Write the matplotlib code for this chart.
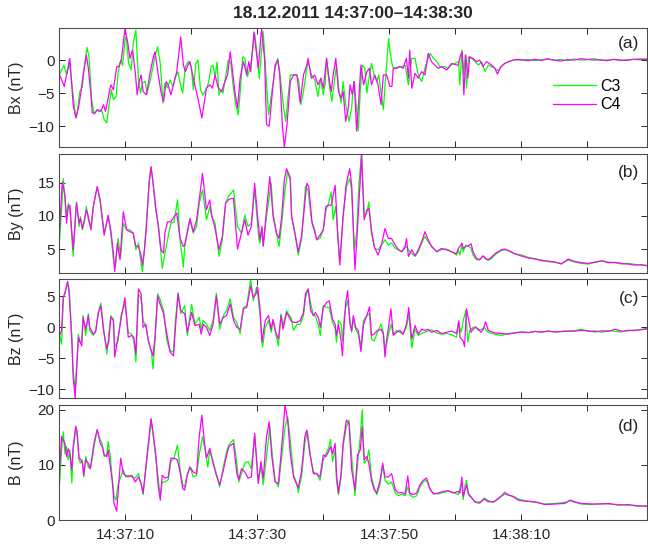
import matplotlib
matplotlib.use("Agg")
import matplotlib.pyplot as plt

matplotlib.rcParams.update({"font.family": ["Liberation Sans", "DejaVu Sans"], "font.size": 11})

# time is seconds after 14:37:00, field in nT
bx_c3_t = [0.0, 0.7, 1.1, 1.5, 2.0, 2.4, 2.6, 2.9, 3.1, 3.5, 3.8, 4.2, 4.5, 4.9, 5.3, 5.7, 6.0, 6.4, 6.8, 7.2,
           7.5, 7.9, 8.2, 8.6, 8.9, 9.3, 9.6, 10.0, 10.2, 10.5, 10.9, 11.2, 11.6, 12.0, 12.3, 12.6, 13.0, 13.3,
           13.8, 14.2, 14.6, 14.9, 15.3, 15.7, 16.0, 16.4, 16.8, 17.2, 17.6, 18.0, 18.3, 18.7, 19.1, 19.6, 20.0,
           20.3, 20.7, 21.0, 21.4, 21.8, 22.2, 22.6, 23.0, 23.3, 23.6, 23.9, 24.2, 24.5, 24.8, 25.2, 25.6, 26.0,
           26.3, 26.7, 27.1, 27.4, 27.8, 28.1, 28.5, 28.8, 29.1, 29.6, 29.9, 30.3, 30.9, 31.7, 32.2, 32.7, 33.1,
           33.4, 34.0, 34.3, 35.0, 35.5, 36.0, 36.3, 36.6, 37.0, 37.5, 37.7, 38.2, 38.7, 39.2, 39.6, 40.0, 40.3,
           40.5, 40.9, 41.3, 41.8, 42.0, 42.4, 42.7, 43.0, 43.4, 43.9, 44.3, 44.6, 45.0, 45.3, 45.6, 45.9, 46.3,
           46.6, 47.0, 47.3, 47.7, 48.1, 48.4, 49.1, 49.4, 49.9, 50.1, 50.5, 50.9, 51.4, 51.9, 52.4, 52.9, 53.1,
           53.4, 53.9, 54.4, 54.9, 55.4, 55.9, 56.2, 56.7, 57.2, 57.7, 58.4, 58.9, 59.4, 59.95, 60.5, 60.7, 61.0,
           61.3, 61.5, 61.7, 62.0, 62.5, 63.0, 63.5, 64.0, 64.5, 65.0, 65.5, 66.0, 66.5, 67.0, 67.5, 68.3, 69.0,
           70, 71, 72, 73, 74, 75, 76, 77, 78, 79, 80, 81, 82, 83, 84, 85, 86, 87, 88, 89]
bx_c3 = [-2.2, -0.8, -2.2, 0.0, -4.5, -8.0, -8.7, -6.5, -4.8, -4.0, -1.0, 1.9, 0.5, -6.0, -8.2, -7.5, -7.8, -7.5,
         -9.0, -9.5, -7.0, -4.5, -6.0, -5.5, -2.0, 0.0, -0.8, 3.5, 3.0, -0.5, -1.5, 2.5, 4.5, -3.0, -5.0, -3.5,
         -3.2, -5.0, -3.0, -1.0, 1.0, 2.0, -0.5, -6.5, -3.5, -4.2, -3.0, -4.0, -2.5, -1.8, -3.5, -5.0, -1.0, -0.2,
         -1.0, -4.5, -0.5, 0.0, -4.5, -5.3, -4.5, -3.5, -1.0, -0.8, -2.5, -0.3, -5.3, -4.5, -5.0, -2.5, 0.0, -0.5,
         -3.5, -6.5, -8.3, -5.0, 0.5, 0.3, -2.5, -1.5, 0.0, 4.0, 1.5, -2.8, 4.3, -8.25, -4.75, -1.25, 0.25, -1.75,
         -7.25, -9.25, -2.25, -2.25, -2.25, -3.25, -6.75, -4.75, -1.25, -0.25, -2.25, -3.0, -5.5, -2.75, -5.25,
         -3.5, 0.25, -3.75, -6.25, -2.25, -0.75, -4.75, -6.5, -3.25, -6.75, -9.25, -7.25, -3.25, -6.75, -10.75,
         -4.75, -0.75, -1.25, -5.0, -2.25, -0.5, -2.25, -3.25, -2.25, -7.5, -3.25, 3.25, 1.25, -1.0, -1.25, -1.0,
         -1.0, -0.75, -3.75, -2.25, 0.25, 0.25, -2.25, -3.25, -1.25, 0.25, 1.0, 0.25, -0.25, -1.0, -1.0, -1.25,
         -0.75, -0.5, -0.25, -3.75, 1.5, -2.25, 0.75, -4.25, 0.5, 0.25, -0.25, -0.75, -0.25, -1.75, -0.75, -1.0,
         -1.25, -1.6, -1.0, -0.5, -0.15, 0.05, 0.0, 0.1, -0.1, 0.05, 0.2, -0.05, 0.1, -0.1, 0.15, 0.0, 0.05, 0.25,
         -0.05, 0.0, 0.1, -0.1, 0.05, 0.1, 0.2, 0.1]
bx_c4_t = [0.05, 0.76, 1.1, 1.36, 1.6, 2.1, 2.5, 2.9, 3.3, 3.6, 4.1, 4.4, 4.75, 5.0, 5.4, 5.8, 6.3, 6.7, 7.0, 7.4,
           7.8, 8.2, 8.7, 9.0, 9.4, 9.95, 10.35, 10.7, 11.1, 11.5, 11.8, 12.1, 12.4, 12.7, 13.2, 13.7, 14.2, 14.5,
           15.0, 15.4, 15.8, 16.2, 16.5, 16.9, 17.3, 17.8, 18.4, 18.8, 19.1, 19.5, 19.8, 20.3, 21.1, 21.6, 22.3,
           22.8, 23.2, 23.6, 24.1, 24.6, 25.1, 25.5, 25.9, 26.2, 26.6, 27.0, 27.4, 27.9, 28.4, 28.7, 29.0, 29.5,
           30.15, 30.65, 31.1, 31.4, 31.8, 32.2, 32.7, 33.1, 33.4, 33.8, 34.1, 34.5, 35.0, 35.5, 36.0, 36.5, 37.0,
           37.5, 37.7, 38.2, 38.7, 39.2, 39.65, 40.0, 40.5, 40.8, 41.2, 41.5, 41.9, 42.3, 42.7, 43.0, 43.4, 43.8,
           44.05, 44.4, 44.7, 45.05, 45.3, 45.7, 46.1, 46.6, 47.0, 47.3, 47.8, 48.3, 48.75, 49.1, 49.6, 50.1, 50.4,
           50.6, 51.1, 51.6, 52.1, 52.6, 52.9, 53.1, 53.4, 53.9, 54.4, 54.9, 55.4, 55.9, 56.4, 56.9, 57.4, 57.9,
           58.7, 59.45, 60.2, 60.45, 60.8, 61.05, 61.3, 61.6, 61.9, 62.2, 62.7, 63.2, 63.7, 64.2, 64.75, 65.5, 66.0,
           66.4, 66.9, 67.5, 68.3, 69.0, 70, 71, 72, 73, 74, 75, 76, 77, 78, 79, 80, 81, 82, 83, 84, 85, 86, 87,
           88, 89]
bx_c4 = [-2.25, -4.0, -2.25, -1.25, 0.25, -6.75, -8.75, -7.25, -4.75, -2.25, 0.75, -1.25, -4.75, -8.0, -8.0, -7.5,
         -7.75, -6.75, -7.75, -5.75, -3.75, -4.5, -1.0, -1.0, 0.0, 4.75, 2.75, 0.25, 1.5, -1.75, -5.25, -3.25,
         -2.25, -4.75, -5.25, -2.25, 0.25, 1.25, -2.25, -4.75, -6.25, -3.25, -3.75, -5.25, -3.75, -1.75, 3.5,
         -0.75, -1.75, -0.75, -0.25, -2.75, -6.25, -8.75, -4.25, -3.75, -4.25, -2.25, -4.25, -4.75, -3.25, -2.25,
         1.25, -1.25, -4.75, -7.25, -2.75, -0.25, -2.25, -0.25, -1.75, 4.25, -1.25, 4.75, 0.25, -9.75, -10.0,
         -5.75, -0.75, 0.0, -2.25, -9.75, -13.25, -9.75, -3.25, -2.25, -2.25, -6.5, -2.25, -0.75, 0.25, -2.75,
         -2.25, -3.75, -2.75, -4.25, 0.25, -2.25, -4.75, -2.25, 0.25, -4.75, -5.75, -4.75, -9.25, -7.25, -3.75,
         -5.25, -3.25, -10.75, -7.25, -0.75, -3.75, -1.75, -1.25, -3.75, -2.25, -3.75, -6.75, -2.25, -2.25, -4.0,
         -4.0, -1.25, -1.25, -1.0, -1.25, 0.25, -2.75, 1.5, -4.25, -2.0, -2.75, -1.75, -2.25, 1.0, -0.25, -0.75,
         -1.25, -1.0, -1.5, -0.5, -0.75, -0.75, 0.75, 1.25, -5.25, 0.75, -2.75, 0.5, 0.25, -0.25, 0.0, -1.0, -0.25,
         -0.75, -1.25, -2.15, -1.0, -0.5, -0.15, 0.05, 0.05, -0.1, 0.1, -0.05, 0.15, 0.0, -0.15, 0.05, 0.0, 0.2,
         0.1, 0.0, 0.05, -0.1, 0.1, 0.0, -0.05, 0.1, 0.05, 0.15]

by_c3_t = [0.05, 0.35, 0.6, 0.86, 1.1, 1.36, 1.6, 2.1, 2.6, 3.0, 3.2, 3.5, 3.8, 4.1, 4.4, 4.8, 5.15, 5.75, 6.2, 6.8,
           7.4, 7.8, 8.2, 8.5, 8.9, 9.3, 9.7, 10.2, 10.7, 11.2, 11.6, 12.0, 12.4, 12.6, 12.9, 13.2, 13.6, 13.9,
           14.2, 14.6, 15.0, 15.4, 15.6, 16.1, 16.4, 16.9, 17.4, 17.9, 18.3, 18.8, 19.0, 19.8, 20.3, 20.8, 21.2,
           21.7, 22.3, 22.8, 23.1, 23.6, 24.2, 24.7, 25.2, 25.6, 26.4, 27.0, 27.6, 28.1, 28.6, 29.1, 29.6, 30.25,
           30.4, 30.7, 30.9, 31.4, 32.1, 32.4, 32.9, 33.3, 33.7, 34.2, 34.6, 35.0, 35.2, 35.7, 36.2, 36.7, 37.3,
           37.7, 38.2, 38.7, 39.0, 39.5, 40.0, 40.4, 40.8, 41.2, 41.5, 41.9, 42.3, 42.5, 43.0, 43.5, 44.0, 44.3,
           44.7, 45.05, 45.4, 45.8, 46.2, 46.6, 46.9, 47.3, 47.8, 48.3, 48.8, 49.35, 49.85, 50.35, 50.9, 51.4,
           51.9, 52.6, 53.1, 53.9, 54.4, 54.9, 55.4, 55.9, 56.4, 57.2, 57.9, 58.7, 59.45, 60.2, 60.45, 60.7, 61.0,
           61.2, 61.6, 62.0, 62.4, 62.7, 63.2, 63.7, 64.2, 64.6, 65.0, 65.5, 66.0, 66.5, 67.0, 67.5, 68.0, 68.5,
           69.0, 70.05, 71.1, 72.1, 73.1, 74.1, 75.1, 76.1, 77.1, 78.1, 79.1, 80.15, 81.2, 82.2, 83.2, 84.2, 85.2,
           86.2, 87.2, 88.2, 89.0]
by_c3 = [6.4, 10.9, 15.6, 12.4, 9.6, 11.9, 10.9, 3.9, 12.1, 8.4, 9.9, 7.9, 9.1, 11.4, 9.4, 8.1, 11.4, 14.4, 12.4,
         7.4, 9.9, 7.4, 3.4, 2.3, 6.6, 3.9, 8.9, 7.9, 7.9, 7.4, 4.9, 5.9, 2.8, 1.6, 4.9, 8.9, 14.9, 17.3, 14.9, 10.9,
         8.9, 4.3, 2.1, 4.9, 6.4, 8.9, 9.1, 12.4, 6.4, 2.3, 5.4, 9.4, 7.4, 8.4, 11.9, 13.9, 9.4, 11.4, 9.9, 8.9, 3.9,
         6.4, 11.9, 12.9, 13.9, 8.4, 7.4, 10.1, 8.4, 8.9, 13.9, 6.4, 5.9, 7.9, 5.6, 9.9, 14.9, 10.4, 7.4, 5.4, 8.9,
         13.9, 16.7, 15.9, 9.9, 7.4, 4.1, 6.4, 14.4, 13.9, 9.4, 7.9, 6.4, 6.6, 7.9, 10.9, 11.9, 13.6, 9.4, 11.4, 5.9,
         3.1, 9.9, 14.4, 15.6, 13.9, 4.9, 7.4, 14.9, 19.3, 9.9, 10.4, 12.1, 7.4, 5.1, 4.9, 5.6, 6.4, 5.6, 5.9, 5.1,
         4.9, 4.6, 5.4, 4.6, 3.9, 4.6, 5.9, 6.9, 6.1, 5.4, 4.6, 4.9, 5.0, 4.6, 4.1, 4.9, 4.1, 5.6, 4.6, 5.6, 5.4,
         5.1, 4.1, 3.4, 3.4, 3.9, 3.5, 3.3, 3.6, 4.1, 4.5, 4.8, 4.9, 4.8, 4.5, 4.3, 4.1, 3.75, 3.5, 3.35, 3.1, 3.0,
         2.85, 3.35, 3.05, 2.85, 2.75, 3.0, 3.2, 3.05, 2.95, 2.75, 2.85, 2.7, 2.6, 2.55]
by_c4_t = [0.05, 0.45, 0.86, 1.1, 1.36, 1.6, 2.1, 2.6, 3.0, 3.2, 3.5, 3.8, 4.1, 4.4, 4.8, 5.15, 5.75, 6.2, 6.8,
           7.4, 7.8, 8.2, 8.4, 8.8, 9.2, 9.7, 10.2, 10.7, 11.2, 11.6, 12.0, 12.4, 12.6, 12.9, 13.2, 13.6, 13.9,
           14.2, 14.6, 15.0, 15.4, 15.8, 16.0, 16.4, 16.9, 17.4, 17.8, 18.3, 18.8, 19.0, 19.8, 20.3, 20.8, 21.2,
           21.7, 22.3, 22.8, 23.1, 23.6, 24.2, 24.7, 25.2, 25.6, 26.0, 26.4, 27.0, 27.6, 28.1, 28.6, 29.1, 29.6,
           30.05, 30.4, 30.7, 30.9, 31.4, 31.9, 32.4, 32.9, 33.3, 33.7, 34.1, 34.45, 35.0, 35.2, 35.7, 36.2, 36.7,
           37.5, 37.8, 38.3, 38.7, 39.0, 39.5, 40.0, 40.4, 40.8, 41.2, 41.8, 42.2, 42.5, 43.0, 43.5, 44.0, 44.3,
           44.8, 45.2, 45.6, 45.8, 46.2, 46.6, 46.9, 47.3, 47.7, 48.3, 48.8, 49.35, 49.85, 50.35, 50.9, 51.4, 51.9,
           52.4, 52.6, 52.9, 53.4, 53.9, 54.4, 54.9, 55.4, 55.9, 56.4, 57.2, 57.9, 58.7, 59.45, 60.2, 60.45, 60.7,
           61.0, 61.2, 61.6, 62.0, 62.4, 62.7, 63.2, 63.7, 64.2, 64.6, 65.0, 65.5, 66.0, 66.5, 67.0, 67.5, 68.0,
           68.5, 69.0, 70.05, 71.1, 72.1, 73.1, 74.1, 75.1, 76.1, 77.1, 78.1, 79.1, 80.15, 81.2, 82.2, 83.2, 84.2,
           85.2, 86.2, 87.2, 88.2, 89.0]
by_c4 = [8.0, 15.1, 13.1, 8.9, 11.4, 11.6, 4.9, 11.9, 8.9, 9.6, 8.1, 9.4, 10.9, 9.9, 7.9, 11.4, 14.4, 12.1, 7.1,
         10.1, 7.9, 4.3, 1.6, 5.9, 3.4, 10.6, 7.9, 7.6, 7.4, 5.4, 5.4, 4.0, 2.6, 4.9, 8.4, 14.9, 17.4, 15.1, 11.4,
         8.4, 4.9, 4.4, 7.4, 9.1, 9.1, 9.9, 10.4, 6.6, 5.4, 5.6, 9.6, 7.6, 9.4, 12.4, 16.4, 10.9, 12.4, 10.1, 8.1,
         4.9, 6.9, 11.9, 12.4, 12.6, 12.6, 5.0, 7.4, 9.4, 7.1, 8.4, 14.9, 9.9, 6.4, 8.4, 5.4, 10.9, 15.9, 9.9, 7.4,
         6.6, 9.9, 15.4, 17.1, 15.4, 9.9, 7.4, 4.6, 6.9, 14.9, 14.4, 8.9, 7.6, 6.4, 7.1, 7.9, 11.4, 11.6, 11.6,
         14.6, 6.9, 2.6, 9.9, 14.9, 17.1, 14.6, 1.9, 8.4, 15.4, 19.2, 9.4, 10.9, 11.1, 7.9, 5.4, 4.1, 5.6, 8.1,
         6.6, 6.6, 5.6, 4.9, 4.6, 5.4, 6.6, 3.9, 4.9, 4.0, 4.9, 6.1, 7.6, 6.4, 5.4, 4.6, 5.1, 4.9, 4.6, 4.3, 5.1,
         5.4, 5.9, 5.1, 5.4, 5.5, 5.8, 4.6, 3.6, 3.4, 4.0, 3.6, 3.4, 3.8, 4.3, 4.6, 4.9, 5.0, 4.8, 4.6, 4.3, 3.95,
         3.65, 3.55, 3.25, 3.2, 3.05, 2.75, 3.5, 3.15, 2.95, 2.85, 3.05, 3.25, 2.95, 3.0, 2.85, 2.75, 2.6, 2.65,
         2.5]

bz_c3_t = [0.05, 0.35, 0.6, 0.86, 1.26, 1.5, 1.9, 2.1, 2.4, 2.6, 2.9, 3.1, 3.4, 3.6, 4.0, 4.4, 4.6, 5.15, 5.5,
           5.9, 6.3, 6.7, 7.2, 7.5, 7.8, 8.2, 8.4, 8.9, 9.4, 9.95, 10.45, 10.96, 11.3, 11.6, 12.0, 12.4, 12.7,
           13.1, 13.5, 14.0, 14.2, 14.5, 14.9, 15.25, 15.8, 16.3, 16.8, 17.3, 17.6, 18.0, 18.4, 19.0, 19.4, 20.05,
           20.55, 21.2, 21.5, 21.8, 22.3, 22.8, 23.3, 23.8, 24.3, 24.85, 25.35, 25.9, 26.4, 26.9, 27.4, 27.9, 28.4,
           29.0, 29.4, 29.9, 30.05, 30.4, 30.8, 31.2, 31.7, 32.1, 32.4, 32.8, 33.2, 33.6, 33.9, 34.45, 34.7, 35.1,
           35.5, 36.0, 36.5, 37.0, 37.3, 37.7, 38.1, 38.5, 38.8, 39.25, 39.55, 40.0, 40.5, 40.9, 41.4, 41.8, 42.0,
           42.3, 42.7, 42.9, 43.2, 43.4, 43.7, 44.05, 44.3, 44.55, 44.9, 45.3, 45.7, 46.1, 46.6, 47.0, 47.3, 47.7,
           48.2, 48.75, 49.1, 49.35, 49.6, 49.85, 50.25, 50.6, 51.1, 51.6, 52.1, 52.6, 52.95, 53.4, 53.9, 54.4,
           54.9, 55.4, 55.9, 56.4, 57.2, 57.9, 58.7, 59.45, 60.2, 60.45, 60.9, 61.2, 61.6, 61.9, 62.2, 62.7, 63.1,
           63.5, 64.0, 64.4, 64.75, 65.25, 66.0, 67.0, 68.0, 69.0, 70.05, 71.1, 72.1, 73.1, 74.1, 75.1, 76.6, 78.1,
           79.1, 80.15, 81.2, 82.2, 83.2, 84.2, 85.2, 86.2, 87.2, 88.2, 89.0]
bz_c3 = [-1.3, -2.7, 4.8, 5.4, 7.3, 6.2, -1.6, -7.0, -10.2, -6.5, -1.1, -2.4, -2.2, 1.9, -1.3, 2.2, -0.5, -1.3,
         -0.5, 2.4, 3.9, 0.0, -4.3, -1.1, 1.9, 1.3, -3.2, -2.2, 2.2, 3.8, -0.8, -1.1, -2.2, -5.6, 5.4, 4.6, 1.1, 0.3,
         -2.2, -4.3, -6.7, -2.2, 5.4, 4.6, 2.7, -2.2, -3.8, -4.0, 1.1, 5.6, 2.2, 3.5, -1.3, 3.7, 0.5, 1.6, -0.3, 1.1,
         0.5, -0.5, 1.1, 5.5, -0.3, 1.9, 2.7, 4.6, 1.6, 0.8, -1.0, 3.2, 3.5, 7.8, 4.3, 6.5, 5.4, 2.2, -3.2, 0.0, 1.1,
         -0.8, 1.1, -1.1, -3.0, 2.2, 0.3, 2.7, 2.2, 1.6, -0.5, 0.5, 0.5, 1.9, 4.6, 6.2, 3.8, 1.9, 1.9, 0.3, -1.3,
         3.5, 3.2, 3.2, 0.8, -0.3, -2.4, 1.1, 0.5, -2.2, 1.9, 3.2, 4.3, 1.1, -0.8, 1.3, -0.3, -1.1, -3.0, 1.1, 1.9,
         2.2, -1.9, -2.2, -0.8, 0.5, -0.8, -3.5, -2.7, -1.3, 0.5, -1.1, -0.5, -0.8, -1.1, 0.0, 2.2, -3.3, -0.3,
         -1.3, -1.0, -0.8, -0.6, -0.4, -0.9, -1.1, -1.0, -1.2, -1.6, 0.8, -0.8, 1.1, 2.7, -2.4, -0.5, 0.0, 0.1,
         -0.5, -0.3, 0.0, -0.6, -0.9, -1.1, -1.3, -1.0, -0.9, -0.75, -0.85, -0.65, -0.8, -0.6, -0.75, -0.6, -0.55,
         -0.3, -0.65, -0.55, -0.8, -0.5, -0.65, -0.75, -0.45, -0.55, -0.3, -0.3]
bz_c4_t = [0.05, 0.35, 0.6, 0.86, 1.26, 1.5, 1.9, 2.1, 2.4, 2.6, 2.9, 3.1, 3.4, 3.6, 4.0, 4.4, 4.6, 5.15, 5.5,
           5.9, 6.3, 6.7, 7.2, 7.5, 7.8, 8.2, 8.4, 8.9, 9.4, 9.95, 10.45, 10.96, 11.3, 11.6, 12.0, 12.4, 12.7,
           13.1, 13.5, 14.0, 14.2, 14.5, 14.9, 15.25, 15.8, 16.3, 16.8, 17.3, 17.6, 18.0, 18.4, 19.0, 19.4, 20.05,
           20.55, 21.2, 21.5, 21.8, 22.3, 22.8, 23.3, 23.8, 24.3, 24.85, 25.35, 25.9, 26.4, 26.9, 27.4, 27.9, 28.4,
           29.0, 29.4, 29.9, 30.05, 30.4, 30.7, 31.2, 31.7, 32.1, 32.4, 32.8, 33.2, 33.6, 33.9, 34.45, 34.7, 35.1,
           35.5, 36.0, 36.5, 37.0, 37.3, 37.7, 38.1, 38.5, 38.8, 39.25, 39.55, 40.0, 40.5, 40.9, 41.4, 41.8, 42.0,
           42.3, 42.7, 42.9, 43.2, 43.4, 43.7, 44.05, 44.3, 44.55, 44.9, 45.3, 45.7, 46.1, 46.6, 47.0, 47.3, 47.7,
           48.2, 48.75, 49.1, 49.35, 49.6, 49.85, 50.25, 50.6, 51.1, 51.6, 52.1, 52.6, 52.95, 53.4, 53.9, 54.4,
           54.9, 55.4, 55.9, 56.4, 57.2, 57.9, 58.7, 59.45, 60.2, 60.55, 60.7, 61.2, 61.4, 61.7, 61.95, 62.4, 62.7,
           63.1, 63.5, 63.9, 64.25, 64.6, 65.0, 66.0, 67.0, 68.0, 69.0, 70.05, 71.1, 72.1, 73.1, 74.1, 75.1, 76.6,
           78.1, 79.1, 80.15, 81.2, 82.2, 83.2, 84.2, 85.2, 86.2, 87.2, 88.2, 89.0]
bz_c4 = [-1.3, -0.5, 4.8, 5.6, 7.4, 5.4, -2.2, -8.1, -11.4, -7.5, -1.6, -2.2, -3.0, 1.6, -0.3, 1.9, 0.0, -1.1,
         -0.8, 2.2, 3.5, -0.5, -3.5, -2.2, 1.6, 1.1, -4.8, -1.6, 1.6, 4.8, -1.6, -1.3, -1.6, -4.3, 6.2, 5.4, 0.0,
         0.5, -2.2, -4.0, -4.6, -1.6, 5.1, 3.8, 2.2, -1.1, -4.0, -4.6, 0.0, 5.4, 2.7, 2.2, -0.8, 2.4, 0.3, 0.5, -1.1,
         0.5, 0.0, -1.3, 0.5, 5.1, 0.5, 1.6, 1.9, 3.8, 1.1, 0.0, -0.3, 3.0, 3.2, 6.7, 4.8, 5.6, 6.5, 3.2, -2.4, 1.1,
         1.9, -0.3, 1.3, -0.8, -1.9, 1.9, -0.3, 2.4, 1.9, 1.1, 0.8, 0.8, 1.1, 2.4, 5.4, 6.2, 2.7, 1.9, 2.4, 1.6, 0.0,
         3.2, 4.0, 4.3, 1.3, 0.5, -1.3, 0.5, -2.2, -4.6, 1.1, 4.0, 5.9, 0.5, -0.5, 1.9, 0.0, -0.5, -3.9, 0.5, 1.9,
         3.3, -1.3, -1.1, -0.5, -0.3, -1.1, -4.8, -1.9, -0.3, 3.0, -1.3, -0.8, -0.5, -1.1, 0.5, 3.2, -1.9, 0.3,
         -1.1, -0.3, -0.5, -0.3, -0.8, -0.5, -1.0, -0.8, -0.6, -1.0, 1.1, -1.6, -2.2, -3.1, 3.0, 1.6, -0.8, -0.3,
         0.0, -0.3, -0.8, -0.3, 0.9, -0.5, -0.9, -1.0, -1.1, -0.9, -0.75, -0.85, -0.65, -0.75, -0.6, -0.75, -0.65,
         -0.6, -0.5, -0.55, -0.75, -0.55, -0.65, -0.3, -0.6, -0.55, -0.45, -0.4, -0.2]

b_c3_t = [0.05, 0.35, 0.6, 0.86, 1.1, 1.36, 1.6, 1.9, 2.1, 2.5, 2.7, 3.0, 3.2, 3.5, 3.7, 4.0, 4.4, 4.7, 5.0, 5.3,
          5.75, 6.2, 6.5, 6.8, 7.2, 7.4, 7.7, 8.0, 8.3, 8.6, 8.9, 9.3, 9.7, 10.05, 10.45, 11.0, 11.5, 12.0, 12.4,
          12.7, 13.2, 13.6, 13.9, 14.2, 14.6, 15.0, 15.3, 15.6, 16.0, 16.5, 16.9, 17.4, 17.9, 18.3, 18.7, 19.0,
          19.4, 19.8, 20.3, 20.8, 21.2, 21.7, 22.1, 22.5, 22.8, 23.3, 23.8, 24.3, 24.8, 25.4, 25.7, 26.4, 26.9,
          27.2, 27.6, 28.1, 28.6, 29.1, 29.6, 30.15, 30.55, 30.9, 31.4, 31.9, 32.3, 32.7, 33.2, 33.7, 34.2, 34.6,
          35.0, 35.5, 36.0, 36.2, 36.7, 37.2, 37.6, 38.0, 38.5, 39.0, 39.5, 40.0, 40.4, 40.8, 41.1, 41.4, 41.8,
          42.0, 42.3, 42.7, 43.0, 43.5, 43.9, 44.3, 44.8, 45.2, 45.6, 45.9, 46.2, 46.6, 46.9, 47.3, 47.7, 48.1,
          48.6, 49.0, 49.35, 49.85, 50.35, 50.9, 51.4, 51.9, 52.4, 52.8, 53.1, 53.6, 54.15, 54.65, 55.15, 55.65,
          56.2, 56.7, 57.4, 58.2, 58.95, 59.7, 60.45, 60.7, 61.0, 61.2, 61.5, 61.7, 62.0, 62.5, 63.0, 63.7, 64.4,
          65.0, 65.8, 66.5, 67.0, 67.5, 68.0, 68.8, 69.55, 70.6, 72.1, 73.6, 75.1, 76.6, 77.4, 78.1, 79.1, 80.7,
          82.2, 83.2, 84.7, 86.2, 87.7, 89.0]
b_c3 = [6.7, 12.7, 16.0, 12.0, 13.3, 10.9, 12.7, 6.7, 12.7, 16.6, 15.4, 10.9, 10.3, 10.9, 7.8, 11.5, 9.6, 9.3,
        11.1, 13.6, 16.3, 14.5, 13.9, 11.5, 11.8, 14.2, 11.8, 7.8, 4.3, 3.6, 6.4, 7.8, 9.1, 7.8, 8.1, 7.8, 7.6, 8.4,
        6.4, 4.6, 10.3, 14.5, 18.2, 15.4, 11.5, 7.3, 4.3, 6.9, 6.9, 7.3, 10.6, 11.2, 13.6, 9.3, 6.4, 6.0, 8.4, 9.6,
        7.8, 8.1, 11.8, 15.1, 12.7, 9.6, 12.7, 10.6, 8.4, 6.0, 9.3, 12.7, 13.6, 14.6, 10.3, 6.9, 8.4, 10.3, 10.6,
        9.3, 15.4, 7.0, 9.9, 6.4, 11.5, 16.9, 11.5, 7.2, 6.0, 11.5, 16.9, 18.7, 14.5, 8.1, 6.6, 5.0, 7.8, 13.9,
        16.0, 12.0, 8.7, 8.4, 7.2, 10.9, 12.0, 13.0, 14.6, 10.6, 12.7, 7.2, 4.6, 7.8, 13.3, 16.9, 18.1, 11.5, 4.4,
        10.3, 15.1, 20.0, 10.3, 10.9, 12.7, 7.8, 6.0, 4.6, 6.4, 9.9, 7.2, 6.5, 6.9, 4.9, 4.4, 4.7, 4.4, 6.0, 4.6,
        4.1, 4.4, 6.0, 6.9, 7.2, 5.5, 4.9, 4.7, 5.0, 5.2, 5.0, 4.6, 5.8, 6.5, 3.7, 6.4, 7.2, 4.9, 4.0, 3.2, 3.0,
        4.0, 3.5, 3.2, 3.8, 4.3, 4.7, 4.5, 4.3, 3.8, 3.5, 3.2, 2.9, 3.0, 3.2, 3.5, 3.2, 2.9, 2.8, 3.0, 2.9, 2.8,
        2.7, 2.6, 2.45]
b_c4_t = [0.05, 0.35, 0.6, 0.86, 1.1, 1.36, 1.6, 1.9, 2.1, 2.5, 2.7, 3.0, 3.2, 3.5, 3.7, 4.0, 4.4, 4.7, 5.0, 5.3,
          5.75, 6.2, 6.5, 6.8, 7.2, 7.4, 7.7, 8.0, 8.3, 8.7, 8.9, 9.3, 9.7, 10.05, 10.45, 11.0, 11.5, 12.0, 12.4,
          12.7, 13.2, 13.6, 13.9, 14.2, 14.6, 15.0, 15.3, 15.6, 16.0, 16.5, 16.9, 17.4, 17.9, 18.3, 18.7, 19.0,
          19.4, 19.8, 20.3, 20.8, 21.2, 21.6, 22.0, 22.3, 22.8, 23.3, 23.8, 24.3, 24.8, 25.4, 25.7, 26.4, 26.9,
          27.2, 27.6, 28.1, 28.6, 29.1, 29.6, 30.15, 30.55, 30.9, 31.4, 31.8, 32.2, 32.7, 33.2, 33.7, 34.2, 34.6,
          35.0, 35.5, 36.0, 36.2, 36.7, 37.2, 37.5, 38.0, 38.5, 39.0, 39.5, 40.0, 40.4, 40.8, 41.1, 41.4, 41.8,
          42.0, 42.3, 42.7, 43.0, 43.5, 43.9, 44.3, 44.8, 45.2, 45.6, 45.9, 46.2, 46.6, 46.9, 47.3, 47.7, 48.1,
          48.6, 49.0, 49.35, 49.85, 50.35, 50.9, 51.4, 51.9, 52.4, 52.8, 53.1, 53.6, 54.15, 54.65, 55.15, 55.65,
          56.2, 56.7, 57.4, 58.2, 58.95, 59.7, 60.45, 60.7, 61.0, 61.2, 61.5, 61.7, 62.0, 62.5, 63.0, 63.7, 64.4,
          65.0, 65.8, 66.5, 67.0, 67.5, 68.0, 68.8, 69.55, 70.6, 72.1, 73.6, 75.1, 76.6, 77.4, 78.1, 79.1, 80.7,
          82.2, 83.2, 84.7, 86.2, 87.7, 89.0]
b_c4 = [9.1, 15.1, 14.5, 13.9, 11.5, 12.9, 12.0, 9.1, 13.3, 17.0, 16.0, 11.1, 11.1, 10.3, 8.1, 10.9, 10.3, 9.3,
        11.8, 14.2, 16.4, 13.9, 13.3, 11.8, 11.5, 12.7, 10.0, 7.3, 3.0, 1.6, 4.9, 11.2, 8.4, 8.1, 7.8, 8.1, 6.9,
        7.8, 6.6, 4.9, 10.6, 15.1, 18.4, 16.0, 12.0, 6.0, 3.6, 8.1, 7.6, 7.8, 11.2, 11.2, 10.9, 8.7, 5.7, 5.4, 8.1,
        9.6, 8.7, 8.4, 15.1, 19.0, 13.9, 11.2, 13.0, 10.3, 8.1, 6.4, 8.7, 12.0, 13.3, 13.9, 8.4, 7.3, 9.3, 8.7, 7.6,
        7.8, 15.7, 6.6, 10.6, 7.6, 15.1, 17.8, 11.5, 6.9, 6.6, 13.3, 20.9, 18.1, 12.0, 7.8, 6.4, 5.8, 8.7, 15.1,
        16.3, 11.8, 8.4, 8.4, 7.8, 11.8, 11.5, 12.4, 13.3, 12.0, 13.9, 8.4, 4.9, 8.4, 13.9, 18.1, 17.5, 9.1, 5.5,
        11.8, 12.7, 16.9, 10.9, 11.5, 10.3, 7.2, 5.5, 4.9, 7.2, 10.3, 7.8, 7.8, 8.4, 5.5, 4.9, 5.0, 4.7, 8.0, 4.9,
        4.6, 4.9, 6.4, 7.2, 7.6, 5.5, 4.7, 4.9, 5.2, 5.3, 4.9, 5.2, 4.9, 7.8, 4.3, 5.5, 6.4, 4.6, 4.0, 3.3, 3.2,
        3.8, 3.3, 3.3, 3.9, 4.4, 5.0, 4.6, 4.2, 3.6, 3.4, 3.3, 2.8, 2.9, 3.0, 3.6, 3.3, 3.0, 2.9, 2.9, 3.0, 2.7,
        2.8, 2.5, 2.55]

# panel settings: label, data, y range, y ticks, tag and its height
panels = [
    ("Bx (nT)", bx_c3_t, bx_c3, bx_c4_t, bx_c4, (-13.1, 4.8), [-10, -5, 0], "(a)", 0.875),
    ("By (nT)", by_c3_t, by_c3, by_c4_t, by_c4, (1.45, 19.3), [5, 10, 15], "(b)", 0.84),
    ("Bz (nT)", bz_c3_t, bz_c3, bz_c4_t, bz_c4, (-11.4, 7.8), [-10, -5, 0, 5], "(c)", 0.84),
    ("B (nT)", b_c3_t, b_c3, b_c4_t, b_c4, (0.0, 20.9), [0, 10, 20], "(d)", 0.81),
]
rows = [(28.3, 146.7), (154.0, 272.7), (279.0, 398.0), (404.7, 520.0)]
W, H = 648.0, 551.0
x0, x1 = 59.3, 647.0

xticks = [10, 20, 30, 40, 50, 60, 70, 80]
def tlabel(s):
    if s % 20 != 10:
        return ""
    return "14:%02d:%02d" % (37 + s // 60, s % 60)

fig = plt.figure(figsize=(6.48, 5.51), dpi=100)
axes = []
for (lab, t3, v3, t4, v4, ylim, yt, tag, ty), (top, bot) in zip(panels, rows):
    ax = fig.add_axes([x0 / W, 1 - bot / H, (x1 - x0) / W, (bot - top) / H])
    ax.plot(t3, v3, color=(0, 1, 0), lw=0.9, label="C3")
    ax.plot(t4, v4, color=(1, 0, 1), lw=0.9, label="C4")
    ax.set_xlim(0, 89.05)
    ax.set_ylim(*ylim)
    ax.set_yticks(yt)
    ax.set_xticks(xticks)
    ax.set_xticklabels([tlabel(s) for s in xticks] if tag == "(d)" else [])
    ax.tick_params(direction="in", length=4, width=0.7, top=True, right=True,
                   colors="#262626", labelsize=11)
    ax.tick_params(axis="x", pad=6)
    for sp in ax.spines.values():
        sp.set_color("#4d4d4d")
        sp.set_linewidth(0.8)
    ax.set_ylabel(lab, fontsize=11.5, color="#262626")
    ax.yaxis.set_label_coords(-0.06, 0.5)
    ax.text(0.969, ty, tag, transform=ax.transAxes, ha="center", va="center", fontsize=12.5, color="#262626")
    axes.append(ax)

axes[0].legend(loc="upper left", bbox_to_anchor=(0.84, 0.576), frameon=False, fontsize=11.5,
               handlelength=2.7, handletextpad=0.25, labelspacing=0.25, borderpad=0, borderaxespad=0)
fig.text(353 / W, 1 - 14 / H, "18.12.2011 14:37:00\u201314:38:30", ha="center", va="center",
         fontsize=12.5, fontweight="bold", color="#262626")

fig.savefig("out.png", dpi=100)
